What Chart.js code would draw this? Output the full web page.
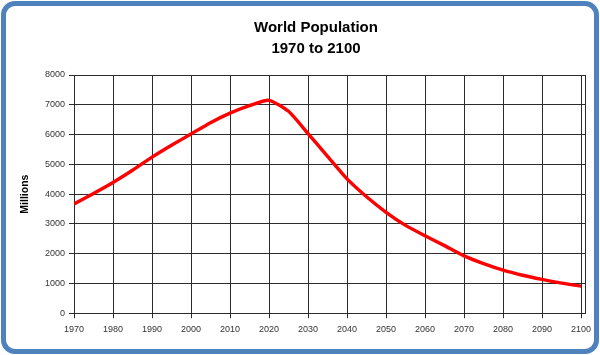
<!DOCTYPE html>
<html>
<head>
<meta charset="utf-8">
<script src="https://cdn.jsdelivr.net/npm/chart.js@4.4.1/dist/chart.umd.min.js"></script>
<style>
  html, body { margin: 0; padding: 0; background: #ffffff; }
  #wrap { position: relative; width: 600px; height: 355px; overflow: hidden; background: #ffffff; }
  #frame { position: absolute; left: 1px; top: 1px; width: 598px; height: 353px; box-sizing: border-box;
           border: 5px solid #4F81BD; border-radius: 14px; background: #ffffff; }
  #c { position: absolute; left: 0; top: 0; }
</style>
</head>
<body>
<div id="wrap">
  <div id="frame"></div>
  <canvas id="c" width="600" height="355"></canvas>
</div>
<script>
const titleLines = ['World Population', '1970 to 2100'];
const yAxisTitle = 'Millions';
const years = [1970,1975,1980,1985,1990,1995,2000,2005,2010,2015,2020,2025,2030,2035,2040,2045,2050,2055,2060,2065,2070,2075,2080,2085,2090,2095,2100];
const population = [3670,4020,4390,4800,5240,5640,6020,6400,6720,6970,7150,6780,6030,5270,4510,3910,3390,2950,2600,2270,1925,1665,1445,1275,1135,1010,910];
const xTicks = [1970,1980,1990,2000,2010,2020,2030,2040,2050,2060,2070,2080,2090,2100];
const yTicks = [0,1000,2000,3000,4000,5000,6000,7000,8000];

const points = years.map((y, i) => ({ x: y, y: population[i] }));

const gridColor = '#2b2b2b';
const tickFont = { family: '"Liberation Sans", Arial, sans-serif', size: 9 };

const framePlugin = {
  id: 'areaBorder',
  afterLayout(chart) {
    const t = chart.titleBlock;
    if (t) { t.left = 47; t.right = 585; }
  },
  beforeDatasetsDraw(chart) {
    const a = chart.chartArea, ctx = chart.ctx;
    ctx.save();
    ctx.strokeStyle = gridColor;
    ctx.lineWidth = 1;
    ctx.beginPath();
    const x = Math.round(a.right) + 0.5;
    ctx.moveTo(x, a.top);
    ctx.lineTo(x, a.bottom);
    ctx.stroke();
    ctx.restore();
  }
};

new Chart(document.getElementById('c'), {
  type: 'line',
  data: {
    datasets: [{
      data: points,
      borderColor: '#ff0000',
      borderWidth: 3.4,
      pointRadius: 0,
      tension: 0.2,
      fill: false
    }]
  },
  options: {
    responsive: false,
    animation: false,
    layout: { padding: { left: 19, right: 15, top: 8, bottom: 14 } },
    plugins: {
      legend: { display: false },
      tooltip: { enabled: false },
      title: {
        display: true,
        text: titleLines,
        color: '#000000',
        font: { family: '"Liberation Sans", Arial, sans-serif', size: 15, weight: 'bold', lineHeight: 1.4 },
        padding: { top: 9, bottom: 16 }
      }
    },
    scales: {
      x: {
        type: 'linear',
        min: 1970,
        max: 2101,
        afterBuildTicks(scale) { scale.ticks = xTicks.map(v => ({ value: v })); },
        ticks: { color: '#333333', font: tickFont, padding: 6, maxRotation: 0, autoSkip: false,
                 callback: v => String(v) },
        grid: { color: gridColor, lineWidth: 1, tickLength: 5, drawTicks: true },
        border: { color: gridColor, width: 1 }
      },
      y: {
        min: 0,
        max: 8000,
        afterBuildTicks(scale) { scale.ticks = yTicks.map(v => ({ value: v })); },
        ticks: { color: '#333333', font: tickFont, padding: 4, callback: v => String(v) },
        grid: { color: gridColor, lineWidth: 1, tickLength: 5, drawTicks: true },
        border: { color: gridColor, width: 1 },
        title: {
          display: true,
          text: yAxisTitle,
          color: '#000000',
          font: { family: '"Liberation Sans", Arial, sans-serif', size: 10.5, weight: 'bold' },
          padding: { top: 0, bottom: 12 }
        },
        afterFit(scale) { scale.width = 55; }
      }
    }
  },
  plugins: [framePlugin]
});
</script>
</body>
</html>
